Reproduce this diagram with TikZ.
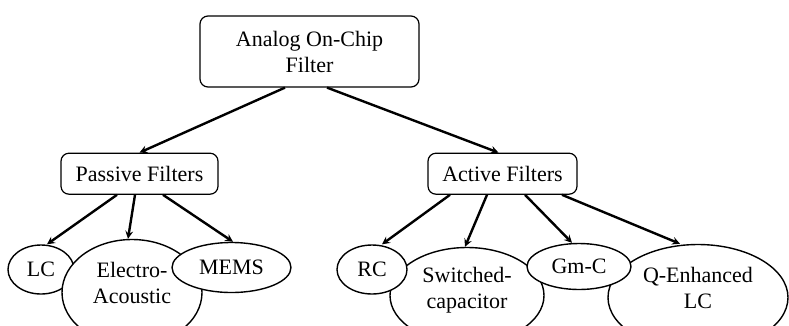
\documentclass[tikz,border=0pt]{standalone}
\usepackage{fontspec}
\setmainfont{Liberation Serif}
\usetikzlibrary{positioning, shapes.geometric, arrows}
\tikzstyle{arrow} = [line width=2.4pt,->,>=stealth]

\begin{document}
\begin{tikzpicture}[
font={\fontsize{22}{26}\selectfont},
boxnode/.style={rectangle, draw=black, line width=1.2pt, rounded corners=8pt, align=center, minimum height=41pt},
ovalnode/.style={ellipse, draw=black, line width=1.4pt, fill=white, inner sep=0pt, align=center}
]
\useasboundingbox (0,0) rectangle (789pt,-325pt);

\node[boxnode, minimum width=219pt, minimum height=71pt] (Root) at (309.5pt,-51.5pt) {Analog On-Chip\\Filter};
\node[boxnode, minimum width=157pt] (Passive) [below=65pt of Root, xshift=-170pt] {Passive Filters};
\node[boxnode, minimum width=149pt] (Active) [below=65pt of Root, xshift=193pt] {Active Filters};

% passive branch
\node[ovalnode, minimum width=66pt, minimum height=49pt] (LC) [below=49.5pt of Passive, xshift=-98.5pt] {LC};
\node[ovalnode, minimum width=140pt, minimum height=106pt, text depth=20pt] (EA) [below=44pt of Passive, xshift=-7.5pt] {Electro-\\Acoustic};
\node[ovalnode, minimum width=119pt, minimum height=50pt] (MEMS) [below=47pt of Passive, xshift=92pt] {MEMS};

% active branch
\node[ovalnode, minimum width=154pt, minimum height=96pt, text depth=16pt] (SC) [below=52pt of Active, xshift=-35.5pt] {Switched-\\capacitor};
\node[ovalnode, minimum width=180pt, minimum height=106pt, text depth=20pt] (QLC) [below=49pt of Active, xshift=195.5pt] {Q-Enhanced\\LC};
\node[ovalnode, minimum width=70pt, minimum height=49pt] (RC) [below=49.5pt of Active, xshift=-130.5pt] {RC};
\node[ovalnode, minimum width=104pt, minimum height=46pt] (GmC) [below=48pt of Active, xshift=76.5pt] {Gm-C};

\draw[arrow] ([xshift=-24.5pt]Root.south) -- (Passive.north);
\draw[arrow] ([xshift=17.5pt]Root.south) -- ([xshift=-4pt]Active.north);

\draw[arrow] ([xshift=-22.5pt]Passive.south) -- ([xshift=6pt]LC.north);
\draw[arrow] ([xshift=-4.5pt]Passive.south) -- ([xshift=-4pt]EA.north);
\draw[arrow] ([xshift=23.5pt]Passive.south) -- ([xshift=1.5pt]MEMS.north);

\draw[arrow] ([xshift=-52.5pt]Active.south) -- ([xshift=10pt]RC.north);
\draw[arrow] ([xshift=-15.5pt]Active.south) -- ([xshift=-2pt]SC.north);
\draw[arrow] ([xshift=22.5pt]Active.south) -- ([xshift=-7pt]GmC.north);
\draw[arrow] ([xshift=59.5pt]Active.south) -- ([xshift=-18pt]QLC.north);
\end{tikzpicture}
\end{document}
